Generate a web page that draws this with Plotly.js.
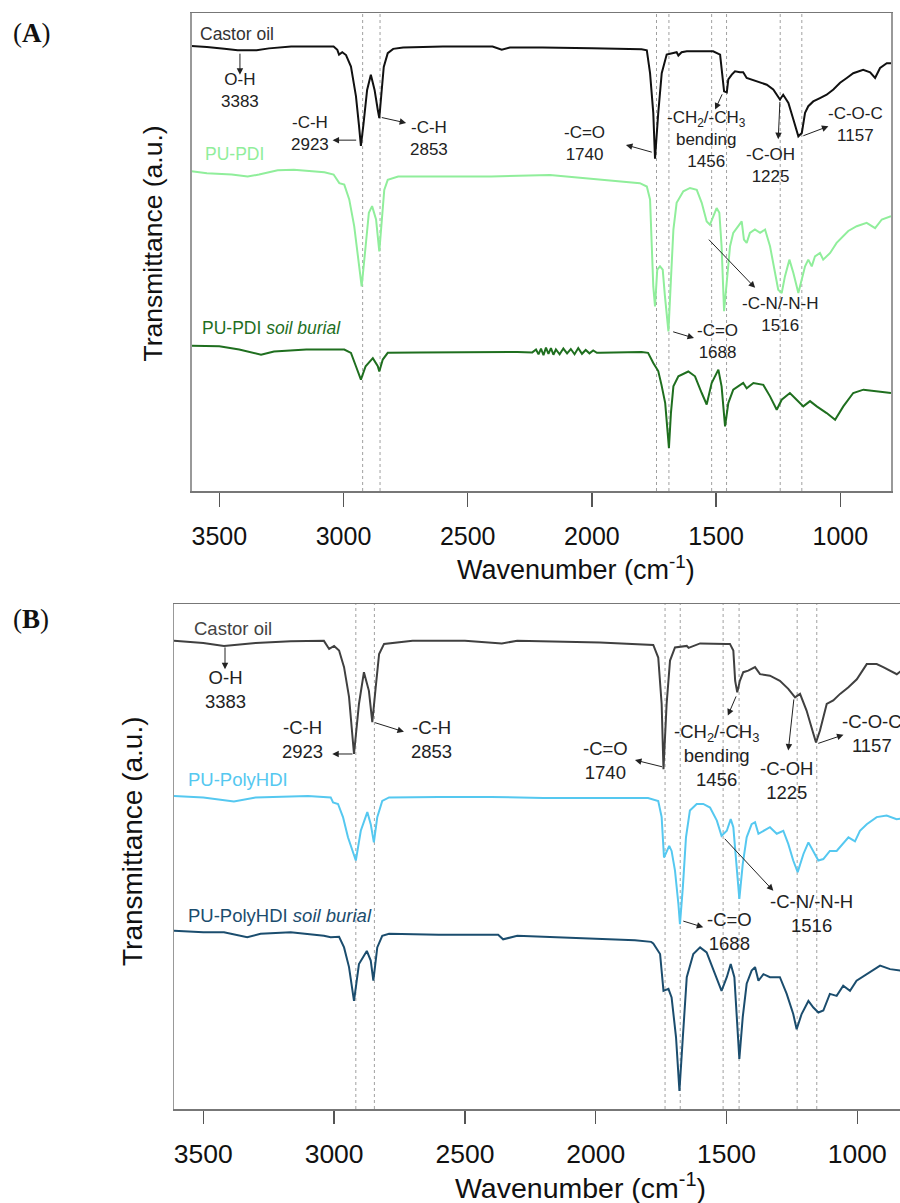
<!DOCTYPE html>
<html>
<head>
<meta charset="utf-8">
<script src="https://cdn.plot.ly/plotly-3.0.1.min.js"></script>
<style>
html,body{margin:0;padding:0;overflow:hidden;background:#fff;}
#chart{width:920px;height:1203px;}
</style>
</head>
<body>
<div id="chart"></div>
<script>
// ---------- DATA (wavenumber cm-1, transmittance a.u.) ----------
// Panel A
const wA_castor = [3612,3550,3480,3426,3350,3300,3211,3100,3040,3025,3018,3005,2990,2970,2950,2938,2930,2920,2905,2890,2875,2862,2856,2848,2838,2822,2800,2760,2600,2400,2363,2330,2200,2000,1900,1800,1779,1766,1753,1746,1733,1719,1699,1659,1652,1639,1618,1512,1484,1474,1468,1457,1451,1437,1424,1404,1391,1377,1337,1296,1270,1243,1230,1209,1189,1169,1155,1142,1129,1109,1082,1055,1028,1001,974,948,908,880,860,840,813,796];
const tA_castor = [93.1,92.9,92.5,92.2,92.2,92.6,93.0,93.0,93.0,92.3,91.3,91.8,91.2,88.8,82.6,76.6,72.2,76.6,83.9,87.1,83.9,79.7,78.0,82.8,88.7,91.6,92.5,92.8,93.0,93.0,92.3,92.8,92.8,92.6,92.5,92.4,92.2,87.4,79.1,69.5,79.1,87.4,91.3,91.8,91.1,91.8,92.0,92.0,91.3,86.1,83.6,83.4,86.1,87.1,87.8,87.6,87.6,86.4,85.7,85.0,84.0,81.9,82.9,81.2,77.7,74.2,74.9,79.1,80.5,81.5,82.2,82.9,84.0,85.4,86.4,87.4,88.1,87.6,86.4,88.5,89.5,89.5];

const wA_pdi = [3612,3550,3450,3386,3340,3265,3200,3077,3040,3017,2997,2977,2957,2944,2927,2911,2898,2885,2869,2856,2847,2836,2822,2780,2700,2406,2169,2000,1900,1807,1779,1766,1759,1753,1746,1737,1726,1715,1706,1692,1682,1672,1659,1632,1605,1578,1558,1538,1525,1511,1498,1487,1478,1468,1457,1444,1431,1411,1397,1388,1377,1364,1344,1323,1303,1283,1263,1250,1236,1223,1205,1189,1169,1155,1142,1129,1115,1102,1082,1069,1041,1015,988,968,934,894,860,833,796];
const tA_pdi = [66.9,66.5,66.2,65.8,66.2,67.1,67.2,66.7,66.2,64.4,64.1,61.0,55.4,49.8,42.8,51.2,58.2,59.6,56.8,50.1,56.8,63.0,65.1,65.8,65.8,65.8,66.1,65.3,64.9,64.4,63.7,61.0,51.2,42.8,38.6,46.3,47.0,46.3,40.7,33.4,44.2,54.7,60.3,62.7,63.4,63.0,60.3,56.4,55.7,57.5,59.2,58.2,51.2,37.6,44.2,51.2,54.0,55.4,56.4,52.6,51.9,54.0,54.7,54.0,54.7,51.2,45.6,42.1,41.4,44.9,48.4,45.6,41.4,44.2,47.0,48.4,47.0,49.1,49.8,48.4,49.8,51.9,53.3,54.4,55.4,56.1,55.0,56.8,57.5];

const wA_pdiSoil = [3612,3500,3420,3332,3280,3150,2997,2970,2950,2930,2911,2882,2862,2856,2842,2822,2700,2500,2300,2240,2225,2215,2205,2195,2185,2175,2165,2155,2145,2130,2115,2100,2085,2070,2055,2040,2025,2010,1995,1980,1967,1800,1774,1753,1733,1720,1705,1690,1682,1672,1652,1612,1585,1558,1538,1518,1491,1478,1464,1451,1431,1391,1377,1350,1310,1283,1256,1236,1203,1176,1149,1122,1095,1055,1021,988,948,907,853,796];
const tA_pdiSoil = [30.4,30.3,29.6,28.5,29.2,29.6,29.6,28.9,26.1,23.3,26.1,27.8,26.1,25.0,27.5,28.9,29.0,29.1,29.1,29.0,29.6,28.6,29.8,28.4,30.0,28.7,29.9,28.5,29.6,28.6,29.8,28.8,29.7,28.6,29.9,28.7,29.5,28.8,29.4,28.9,28.9,29.1,28.9,26.8,25.1,22.2,18.4,9.0,16.3,21.9,24.0,25.0,24.0,20.5,18.1,22.6,25.4,21.9,13.5,18.4,21.2,22.6,21.5,22.6,22.2,19.8,17.0,19.1,20.5,19.1,17.7,18.8,17.7,16.3,14.9,17.7,20.5,21.2,20.9,20.5];

// Panel B
const wB_castor = [3612,3500,3421,3300,3166,3039,3019,3000,2981,2962,2943,2924,2905,2886,2867,2854,2841,2828,2809,2700,2500,2359,2300,2100,1984,1780,1761,1748,1741,1729,1716,1697,1652,1645,1601,1500,1487,1474,1467,1459,1449,1436,1417,1391,1372,1334,1296,1264,1238,1219,1194,1168,1158,1143,1131,1117,1092,1066,1034,1002,964,926,901,875,849,820,796];
const tB_castor = [92.7,92.3,91.7,92.3,92.6,92.7,91.1,91.7,90.8,87.5,81.6,70.3,80.2,86.5,82.8,76.6,83.5,90.1,92.1,92.7,92.7,92.2,92.7,92.5,92.4,91.9,89.4,80.2,67.3,80.2,88.8,91.4,91.7,91.3,92.2,92.1,92.1,90.8,84.8,82.5,84.8,86.5,86.8,87.5,86.1,85.8,84.8,83.2,81.5,82.2,78.9,74.3,72.6,74.9,77.6,80.2,80.9,82.2,83.5,85.1,88.1,88.1,87.5,86.8,86.1,87.3,88.5];

const wB_hdi = [3612,3500,3383,3300,3100,3013,3004,2985,2966,2947,2917,2898,2873,2860,2848,2835,2816,2790,2600,2400,2200,2000,1800,1761,1748,1739,1729,1719,1710,1697,1684,1678,1667,1655,1640,1614,1589,1563,1537,1519,1499,1484,1474,1461,1451,1438,1423,1404,1391,1378,1359,1334,1308,1283,1264,1245,1228,1206,1187,1168,1149,1130,1105,1079,1054,1034,1009,990,964,926,888,850,820,796];
const tB_hdi = [62.0,61.7,60.9,61.7,62.0,61.7,60.7,60.4,57.8,53.8,49.2,55.1,58.8,56.4,52.8,57.8,61.0,61.7,61.8,61.8,61.6,61.6,61.6,61.0,57.8,49.8,51.1,52.1,51.1,47.2,40.6,36.6,43.9,53.8,59.1,60.4,60.4,59.7,57.1,54.1,55.1,57.4,55.8,47.2,41.6,48.5,53.8,56.4,56.8,54.5,55.1,55.8,54.5,55.1,52.5,49.2,46.9,50.5,52.8,51.1,49.2,49.5,51.1,51.1,52.5,53.8,53.0,55.1,56.4,57.8,58.1,57.4,57.6,58.0];

const wB_hdiSoil = [3612,3500,3421,3332,3281,3166,3039,3013,2981,2962,2943,2924,2905,2875,2860,2850,2835,2816,2790,2600,2373,2354,2300,2200,2100,1950,1850,1788,1780,1754,1741,1722,1710,1693,1680,1667,1652,1627,1601,1576,1544,1519,1499,1484,1470,1461,1451,1438,1423,1404,1391,1378,1359,1334,1296,1270,1245,1232,1213,1187,1168,1149,1130,1105,1079,1054,1028,1003,964,913,875,837,796];
const tB_hdiSoil = [35.3,35.0,35.0,34.0,34.7,35.0,34.3,34.0,34.1,32.0,28.1,21.4,28.7,31.3,29.4,25.4,32.0,34.3,34.7,34.5,34.5,33.6,34.3,34.1,34.0,33.7,33.4,33.1,32.8,30.7,23.4,23.8,22.1,14.2,3.6,14.2,26.1,30.7,32.0,31.0,26.7,23.4,26.1,28.7,26.1,17.5,9.9,18.2,24.8,27.4,28.1,25.4,26.7,26.1,26.1,22.8,18.8,15.8,18.8,21.4,20.1,19.1,19.5,22.8,22.4,24.4,23.4,25.4,26.7,28.4,27.7,27.4,27.1];

// Peak reference lines (wavenumber)
const peakLinesA = [2923, 2853, 1740, 1690, 1518, 1458, 1242, 1155];
const peakLinesB = [2917, 2846, 1735, 1677, 1513, 1452, 1230, 1155];

const xTickVals = [3500, 3000, 2500, 2000, 1500, 1000];
const seriesNamesA = ['Castor oil', 'PU-PDI', 'PU-PDI <i>soil burial</i>'];
const seriesNamesB = ['Castor oil', 'PU-PolyHDI', 'PU-PolyHDI <i>soil burial</i>'];

// ---------- STYLE ----------
const colA = ['#111111', '#90ee9b', '#1f6f1f'];
const colB = ['#404040', '#55c8f0', '#1b4d6e'];
const FONT = 'Liberation Sans, Arial, Helvetica, sans-serif';
const W = 920, H = 1203;

function tr(x, y, color, xa, ya) {
  return {x: x, y: y, type: 'scatter', mode: 'lines', xaxis: xa, yaxis: ya,
          line: {color: color, width: 2}, hoverinfo: 'skip', showlegend: false};
}
const data = [
  tr(wA_castor, tA_castor, colA[0], 'x', 'y'),
  tr(wA_pdi, tA_pdi, colA[1], 'x', 'y'),
  tr(wA_pdiSoil, tA_pdiSoil, colA[2], 'x', 'y'),
  tr(wB_castor, tB_castor, colB[0], 'x2', 'y2'),
  tr(wB_hdi, tB_hdi, colB[1], 'x2', 'y2'),
  tr(wB_hdiSoil, tB_hdiSoil, colB[2], 'x2', 'y2')
];

const shapes = [];
peakLinesA.forEach(w => shapes.push({type:'line', xref:'x', yref:'y domain', x0:w, x1:w, y0:0, y1:1, layer:'below', line:{color:'#a0a0a0', width:1, dash:'dot'}}));
peakLinesB.forEach(w => shapes.push({type:'line', xref:'x2', yref:'y2 domain', x0:w, x1:w, y0:0, y1:1, layer:'below', line:{color:'#a0a0a0', width:1, dash:'dot'}}));

const ann = [];
function lbl(xr, yr, x, y, text, size, color, anchor) {
  ann.push({xref:xr, yref:yr, x:x, y:y, text:text, showarrow:false, xanchor:anchor||'center', yanchor:'middle',
            font:{family:FONT, size:size, color:color||'#222'}});
}
function arr(xr, yr, tail, head) {
  ann.push({xref:xr, yref:yr, axref:xr, ayref:yr, x:head[0], y:head[1], ax:tail[0], ay:tail[1], text:'',
            showarrow:true, arrowhead:2, arrowsize:1.3, arrowwidth:1, arrowcolor:'#222', standoff:0, startstandoff:0});
}
// Panel A series labels
lbl('x','y',3586,95.6,seriesNamesA[0],17.5,'#333','left');
lbl('x','y',3567,70.4,seriesNamesA[1],17.5,colA[1],'left');
lbl('x','y',3577,34.1,seriesNamesA[2],17.5,colA[2],'left');
// Panel A peak labels
const fA = 17;
lbl('x','y',3417,83.7,'O-H<br>3383',fA);
lbl('x','y',3134,74.7,'-C-H<br>2923',fA);
lbl('x','y',2655,73.8,'-C-H<br>2853',fA);
lbl('x','y',2028,72.7,'-C=O<br>1740',fA);
lbl('x','y',1538,73.5,'-CH<sub>2</sub>/-CH<sub>3</sub><br>bending<br>1456',fA);
lbl('x','y',1280,68.1,'-C-OH<br>1225',fA);
lbl('x','y',937,76.6,'-C-O-C<br>1157',fA);
lbl('x','y',1243,36.9,'-C-N/-N-H<br>1516',fA);
lbl('x','y',1495,31.2,'-C=O<br>1688',fA);
arr('x','y',[3417,91.8],[3417,87.1]);
arr('x','y',[2943,73.4],[3044,73.4]);
arr('x','y',[2852,78.2],[2748,77.0]);
arr('x','y',[1753,70.8],[1863,72.4]);
arr('x','y',[1473,83.3],[1504,79.8]);
arr('x','y',[1243,81.7],[1250,73.6]);
arr('x','y',[1155,74.2],[1048,76.3]);
arr('x','y',[1535,52.9],[1343,42.5]);
arr('x','y',[1679,33.4],[1589,32.0]);

// Panel B series labels
lbl('x2','y2',3542,95.2,seriesNamesB[0],18.5,'#444','left');
lbl('x2','y2',3567,65.3,seriesNamesB[1],18.5,colB[1],'left');
lbl('x2','y2',3567,38.4,seriesNamesB[2],18.5,colB[2],'left');
const fB = 18.5;
lbl('x2','y2',3414,83.1,'O-H<br>3383',fB);
lbl('x2','y2',3119,73.2,'-C-H<br>2923',fB);
lbl('x2','y2',2627,73.2,'-C-H<br>2853',fB);
lbl('x2','y2',1964,69.1,'-C=O<br>1740',fB);
lbl('x2','y2',1537,70.1,'-CH<sub>2</sub>/-CH<sub>3</sub><br>bending<br>1456',fB);
lbl('x2','y2',1270,65.1,'-C-OH<br>1225',fB);
lbl('x2','y2',945,74.3,'-C-O-C<br>1157',fB);
lbl('x2','y2',1174,38.7,'-C-N/-N-H<br>1516',fB);
lbl('x2','y2',1487,35.1,'-C=O<br>1688',fB);
arr('x2','y2',[3417,91.7],[3417,87.1]);
arr('x2','y2',[2924,70.3],[3007,70.3]);
arr('x2','y2',[2850,76.6],[2733,74.7]);
arr('x2','y2',[1741,67.7],[1850,69.1]);
arr('x2','y2',[1461,82.0],[1495,77.9]);
arr('x2','y2',[1242,81.4],[1264,71.0]);
arr('x2','y2',[1155,72.3],[1053,74.1]);
arr('x2','y2',[1512,53.8],[1321,43.2]);
arr('x2','y2',[1671,37.3],[1589,36.0]);

// Panel letters and axis titles
function paperTxt(px, py, text, size, family, angle) {
  ann.push({xref:'paper', yref:'paper', x:px/W, y:1-py/H, text:text, showarrow:false, xanchor:'center', yanchor:'middle',
            textangle:angle||0, font:{family:family, size:size, color:'#111'}});
}
paperTxt(32, 33, '(<b>A</b>)', 27, 'Liberation Serif, Times New Roman, serif');
paperTxt(31, 619, '(<b>B</b>)', 27, 'Liberation Serif, Times New Roman, serif');
paperTxt(152, 243.5, 'Transmittance (a.u.)', 26.5, FONT, -90);
paperTxt(132, 842, 'Transmittance (a.u.)', 28, FONT, -90);
paperTxt(576, 568, 'Wavenumber (cm<sup>-1</sup>)', 27, FONT);
paperTxt(580, 1186, 'Wavenumber (cm<sup>-1</sup>)', 28.5, FONT);

function xax(domain, size, tlen) {
  return {domain: domain, range: [3612, 796], tickmode:'array', tickvals: xTickVals, ticktext: xTickVals.map(String),
          ticks:'outside', ticklen: tlen, tickwidth: 1.5, tickcolor:'#555', ticklabelstandoff: 8,
          showline:true, linecolor:'#777', linewidth:1.5, mirror:true, showgrid:false, zeroline:false,
          tickfont:{family:FONT, size:size, color:'#111'}, fixedrange:true};
}
function yax(domain, anchor) {
  return {domain: domain, range: [0, 100], anchor: anchor, showticklabels:false, ticks:'',
          showline:true, linecolor:'#999', linewidth:1.5, mirror:true, showgrid:false, zeroline:false, fixedrange:true};
}
const layout = {
  width: W, height: H, margin:{l:0, r:0, t:0, b:0}, paper_bgcolor:'#fff', plot_bgcolor:'#fff',
  showlegend:false, hovermode:false,
  xaxis: Object.assign(xax([191.5/W, 891/W], 25, 14), {anchor:'y'}),
  yaxis: yax([1-491/H, 1-13/H], 'x'),
  xaxis2: Object.assign(xax([174/W, 910.7/W], 26.5, 13), {anchor:'y2'}),
  yaxis2: yax([1-1109/H, 1-604/H], 'x2'),
  shapes: shapes, annotations: ann
};
Plotly.newPlot('chart', data, layout, {staticPlot:true, displayModeBar:false});
</script>
</body>
</html>
